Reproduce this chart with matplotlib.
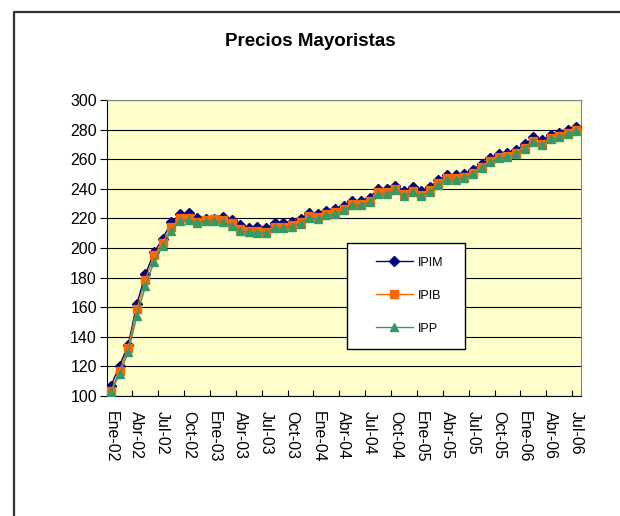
import matplotlib
matplotlib.use("Agg")
import matplotlib.pyplot as plt
from matplotlib.patches import Rectangle
from matplotlib.lines import Line2D

plt.rcParams["font.family"] = ["Liberation Sans", "DejaVu Sans"]

# monthly wholesale price indices, Ene-02 .. Jul-06
months = ["Ene", "Feb", "Mar", "Abr", "May", "Jun", "Jul", "Ago", "Sep", "Oct", "Nov", "Dic"]
periods = [f"{months[i % 12]}-{2 + i // 12:02d}" for i in range(55)]

ipim = [106.8, 120.5, 134.5, 162.0, 182.2, 197.0, 206.3, 217.3, 222.7, 223.4,
        220.0, 219.4, 219.4, 220.7, 219.0, 215.5, 213.5, 214.0, 213.3, 216.7,
        216.7, 217.8, 219.6, 223.9, 223.0, 225.2, 226.4, 228.6, 232.0, 232.0,
        234.0, 239.9, 239.9, 242.1, 238.7, 241.0, 238.5, 241.2, 246.0, 249.3,
        249.3, 250.2, 253.0, 257.0, 260.8, 263.7, 264.4, 266.4, 270.0, 274.8,
        272.8, 276.4, 278.0, 279.7, 282.0]
ipib = [103.4, 117.0, 132.7, 158.8, 178.4, 195.0, 203.6, 214.0, 220.5, 220.5,
        217.6, 219.0, 219.4, 219.0, 216.7, 212.8, 211.3, 211.8, 211.0, 214.3,
        214.5, 215.5, 217.3, 221.5, 220.8, 223.0, 224.2, 226.4, 229.8, 229.8,
        231.8, 237.6, 237.6, 239.8, 236.5, 238.6, 236.0, 239.0, 243.8, 247.0,
        247.0, 248.0, 250.8, 254.8, 258.6, 261.5, 262.2, 264.2, 267.8, 272.6,
        270.6, 274.2, 275.8, 277.5, 279.8]
ipp = [102.9, 114.6, 130.0, 154.0, 174.3, 190.8, 201.4, 211.5, 218.2, 219.0,
       216.7, 218.0, 218.0, 217.8, 215.0, 211.5, 210.6, 210.4, 210.2, 213.2,
       213.5, 214.5, 216.5, 220.5, 219.8, 222.0, 223.2, 225.5, 228.8, 228.8,
       230.8, 236.6, 236.8, 239.0, 235.4, 237.6, 235.0, 238.0, 242.8, 246.0,
       246.2, 247.2, 250.0, 254.0, 257.8, 260.6, 261.4, 263.4, 267.0, 271.8,
       269.8, 273.4, 275.0, 276.8, 279.0]

fig = plt.figure(figsize=(6.2, 5.16), dpi=100)
# chart-area frame: only its top and left edges fall inside the picture
fx0, fy0 = 13.5 / 620, 1 - 11.5 / 516
fig.lines.append(Line2D([fx0, fx0, 1.0], [0.0, fy0, fy0], transform=fig.transFigure,
                        color="#333333", lw=1.6))

ax = fig.add_axes([0.172, 0.2326, 0.7646, 0.5735])
ax.set_facecolor("#FFFFCC")

x = list(range(len(periods)))
ax.plot(x, ipim, color="#000080", lw=1.0, marker="D", ms=4.8, label="IPIM", zorder=3)
ax.plot(x, ipib, color="#FF6600", lw=1.0, marker="s", ms=5.3, label="IPIB", zorder=4)
ax.plot(x, ipp, color="#339966", lw=1.0, marker="^", ms=5.3, label="IPP", zorder=5)

ax.set_ylim(100, 300)
ax.set_yticks(range(100, 301, 20))
ax.yaxis.grid(True, color="black", lw=0.8)
ax.set_axisbelow(True)
ax.set_xlim(-0.5, len(periods) - 0.5)
ax.set_xticks([i - 0.5 for i in range(0, len(periods), 3)] + [len(periods) - 0.5])
ax.set_xticklabels([])
ax.set_xticks(range(0, len(periods), 3), minor=True)
ax.set_xticklabels(periods[::3], minor=True, rotation=-90, fontsize=11.5)
ax.tick_params(axis="x", which="minor", length=0, pad=11)
ax.tick_params(axis="x", which="major", length=4, direction="in", width=0.8)
ax.tick_params(axis="y", length=5, direction="out", width=0.8, labelsize=11.5, pad=2)
for s in ["top", "right"]:
    ax.spines[s].set_color("#808080")
for s in ["left", "bottom"]:
    ax.spines[s].set_color("black")

ax.add_patch(Rectangle((0.507, 0.159), 0.249, 0.358, transform=ax.transAxes,
                       facecolor="white", edgecolor="black", lw=1.0, zorder=6))
leg = ax.legend(loc="upper left", bbox_to_anchor=(0.557, 0.487), frameon=False,
                fontsize=9, handlelength=3.0, handletextpad=0.35, labelspacing=1.68,
                borderaxespad=0)
leg.set_zorder(7)

fig.text(0.5, 0.9205, "Precios Mayoristas", ha="center", va="center",
         fontsize=13.5, fontweight="bold")

fig.savefig("out.png", dpi=100)
